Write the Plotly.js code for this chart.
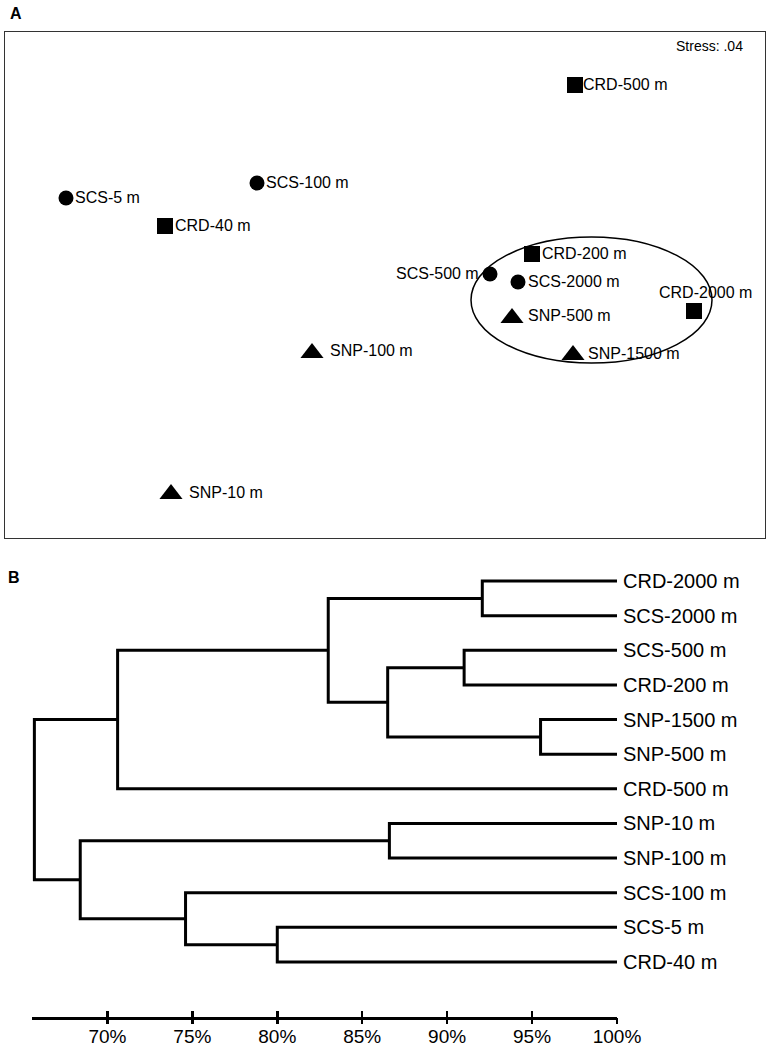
<!DOCTYPE html>
<html>
<head>
<meta charset="utf-8">
<script src="https://cdn.plot.ly/plotly-3.0.1.min.js"></script>
<style>html,body{margin:0;padding:0;background:#fff;}#chart{width:770px;height:1046px;}</style>
</head>
<body>
<div id="chart"></div>
<script>
// ---------- Panel A: MDS ordination (arbitrary units) ----------
const scsNames = ["SCS-5 m", "SCS-100 m", "SCS-500 m", "SCS-2000 m"];
const scsX = [61, 252, 485, 513];
const scsY = [340, 355, 264, 256];

const crdNames = ["CRD-40 m", "CRD-200 m", "CRD-500 m", "CRD-2000 m"];
const crdX = [160, 527, 570, 689];
const crdY = [312, 284, 453, 227];

const snpNames = ["SNP-10 m", "SNP-100 m", "SNP-500 m", "SNP-1500 m"];
const snpX = [166, 307, 507, 568];
const snpY = [44, 185, 220, 183];

const stressText = "Stress: .04";
// cluster outline (x0, x1, y0, y1 in ordination units)
const clusterEllipse = [466, 707, 175, 301];

// ---------- Panel B: cluster dendrogram ----------
const leafLabels = ["CRD-2000 m", "SCS-2000 m", "SCS-500 m", "CRD-200 m", "SNP-1500 m",
  "SNP-500 m", "CRD-500 m", "SNP-10 m", "SNP-100 m", "SCS-100 m", "SCS-5 m", "CRD-40 m"];
// merges: children index (leaves 0..11, merges 12+k) and similarity (%)
const mergeLeft  = [0, 2, 4, 13, 12, 16, 7, 10, 9, 18, 17];
const mergeRight = [1, 3, 5, 14, 15, 6, 8, 11, 19, 20, 21];
const mergeSim   = [92.07, 91.0, 95.5, 86.5, 83.0, 70.6, 86.6, 80.0, 74.6, 68.4, 65.7];
const simTicks = [70, 75, 80, 85, 90, 95, 100];
const simTickText = ["70%", "75%", "80%", "85%", "90%", "95%", "100%"];

// ---------- label styling (offsets in px) ----------
const labelStyle = {
  "SCS-5 m": [7, 0, "left"], "SCS-100 m": [7, 0, "left"], "SCS-500 m": [-9, 0, "right"],
  "SCS-2000 m": [8, 0, "left"], "CRD-40 m": [8, 0, "left"], "CRD-200 m": [8, 0, "left"],
  "CRD-500 m": [6, 0, "left"], "CRD-2000 m": [-37, 18, "left"],
  "SNP-10 m": [16, 1, "left"], "SNP-100 m": [16, 2, "left"], "SNP-500 m": [14, 2, "left"],
  "SNP-1500 m": [13, 1, "left"]
};

const W = 770, H = 1046;
const FONT = "Liberation Sans, Arial, Helvetica, sans-serif";

const traces = [];
function ptTrace(xs, ys, names, symbol, size) {
  return {x: xs, y: ys, text: names, type: "scatter", mode: "markers",
    xaxis: "x", yaxis: "y", hoverinfo: "text",
    marker: {symbol: symbol, size: size, color: "#000", line: {width: 0}}, showlegend: false};
}
traces.push(ptTrace(scsX, scsY, scsNames, "circle", 15));
traces.push(ptTrace(crdX, crdY, crdNames, "square", 16));
traces.push(ptTrace(snpX, snpY, snpNames, "triangle-up", 20));

const annotations = [];
function addLabels(xs, ys, names) {
  names.forEach((n, i) => {
    const s = labelStyle[n];
    annotations.push({x: xs[i], y: ys[i], xref: "x", yref: "y", text: n, showarrow: false,
      xanchor: s[2], yanchor: "middle", xshift: s[0], yshift: s[1],
      font: {family: FONT, size: 16, color: "#000"}});
  });
}
addLabels(scsX, scsY, scsNames);
addLabels(crdX, crdY, crdNames);
addLabels(snpX, snpY, snpNames);

annotations.push({x: 745 / W, y: 1 - 46 / H, xref: "paper", yref: "paper", text: stressText,
  showarrow: false, xanchor: "right", yanchor: "middle", font: {family: FONT, size: 14, color: "#000"}});
annotations.push({x: 8 / W, y: 1 - 13 / H, xref: "paper", yref: "paper", text: "<b>A</b>",
  showarrow: false, xanchor: "left", yanchor: "middle", font: {family: FONT, size: 16, color: "#000"}});
annotations.push({x: 6 / W, y: 1 - 577 / H, xref: "paper", yref: "paper", text: "<b>B</b>",
  showarrow: false, xanchor: "left", yanchor: "middle", font: {family: FONT, size: 16, color: "#000"}});

// dendrogram geometry from merges
const nLeaf = leafLabels.length;
const nodeY = [], nodeX = [];
for (let i = 0; i < nLeaf; i++) { nodeY.push(i); nodeX.push(100); }
const dx = [], dy = [];
mergeSim.forEach((h, k) => {
  const a = mergeLeft[k], b = mergeRight[k];
  dx.push(nodeX[a], h, h, nodeX[b], null);
  dy.push(nodeY[a], nodeY[a], nodeY[b], nodeY[b], null);
  nodeX.push(h); nodeY.push((nodeY[a] + nodeY[b]) / 2);
});
traces.push({x: dx, y: dy, type: "scatter", mode: "lines", xaxis: "x2", yaxis: "y2",
  line: {color: "#000", width: 3}, hoverinfo: "skip", showlegend: false, connectgaps: false});
traces.push({x: [], y: [], type: "scatter", mode: "lines", xaxis: "x3", yaxis: "y2", showlegend: false});

leafLabels.forEach((n, i) => {
  annotations.push({x: 100, y: i, xref: "x2", yref: "y2", text: n, showarrow: false,
    xanchor: "left", yanchor: "middle", xshift: 4, font: {family: FONT, size: 20, color: "#000"}});
});

const dendroDomainX = [32 / W, 617 / W];
const dendroRange = [65.56, 100];

const layout = {
  width: W, height: H, margin: {l: 0, r: 0, t: 0, b: 0}, paper_bgcolor: "#fff", plot_bgcolor: "#fff",
  font: {family: FONT, color: "#000"},
  showlegend: false,
  xaxis: {domain: [5 / W, 765 / W], range: [0, 760], showgrid: false, zeroline: false,
    showticklabels: false, ticks: "", showline: true, mirror: true, linecolor: "#333", linewidth: 1, anchor: "y"},
  yaxis: {domain: [1 - 538 / H, 1 - 32 / H], range: [0, 506], showgrid: false, zeroline: false,
    showticklabels: false, ticks: "", showline: true, mirror: true, linecolor: "#333", linewidth: 1, anchor: "x"},
  xaxis2: {domain: dendroDomainX, range: dendroRange, anchor: "y2", showgrid: false, zeroline: false,
    showline: true, linecolor: "#000", linewidth: 3, ticks: "inside", ticklen: 6, tickwidth: 2.5,
    tickcolor: "#000", tickmode: "array", tickvals: simTicks, ticktext: simTickText,
    tickfont: {family: FONT, size: 19, color: "#000"}},
  xaxis3: {domain: dendroDomainX, range: dendroRange, anchor: "y2", overlaying: "x2", side: "bottom",
    showgrid: false, zeroline: false, showline: false, ticks: "outside", ticklen: 6, tickwidth: 2.5,
    tickcolor: "#000", tickmode: "array", tickvals: simTicks, showticklabels: false},
  yaxis2: {domain: [1 - 1017 / H, 1 - 560 / H], range: [12.59, -0.61], anchor: "x2", showgrid: false,
    zeroline: false, showline: false, showticklabels: false, ticks: ""},
  shapes: [{type: "circle", xref: "x", yref: "y", x0: clusterEllipse[0], x1: clusterEllipse[1],
    y0: clusterEllipse[2], y1: clusterEllipse[3], line: {color: "#000", width: 1.5}}],
  annotations: annotations
};

Plotly.newPlot("chart", traces, layout, {displayModeBar: false, staticPlot: true});
</script>
</body>
</html>
